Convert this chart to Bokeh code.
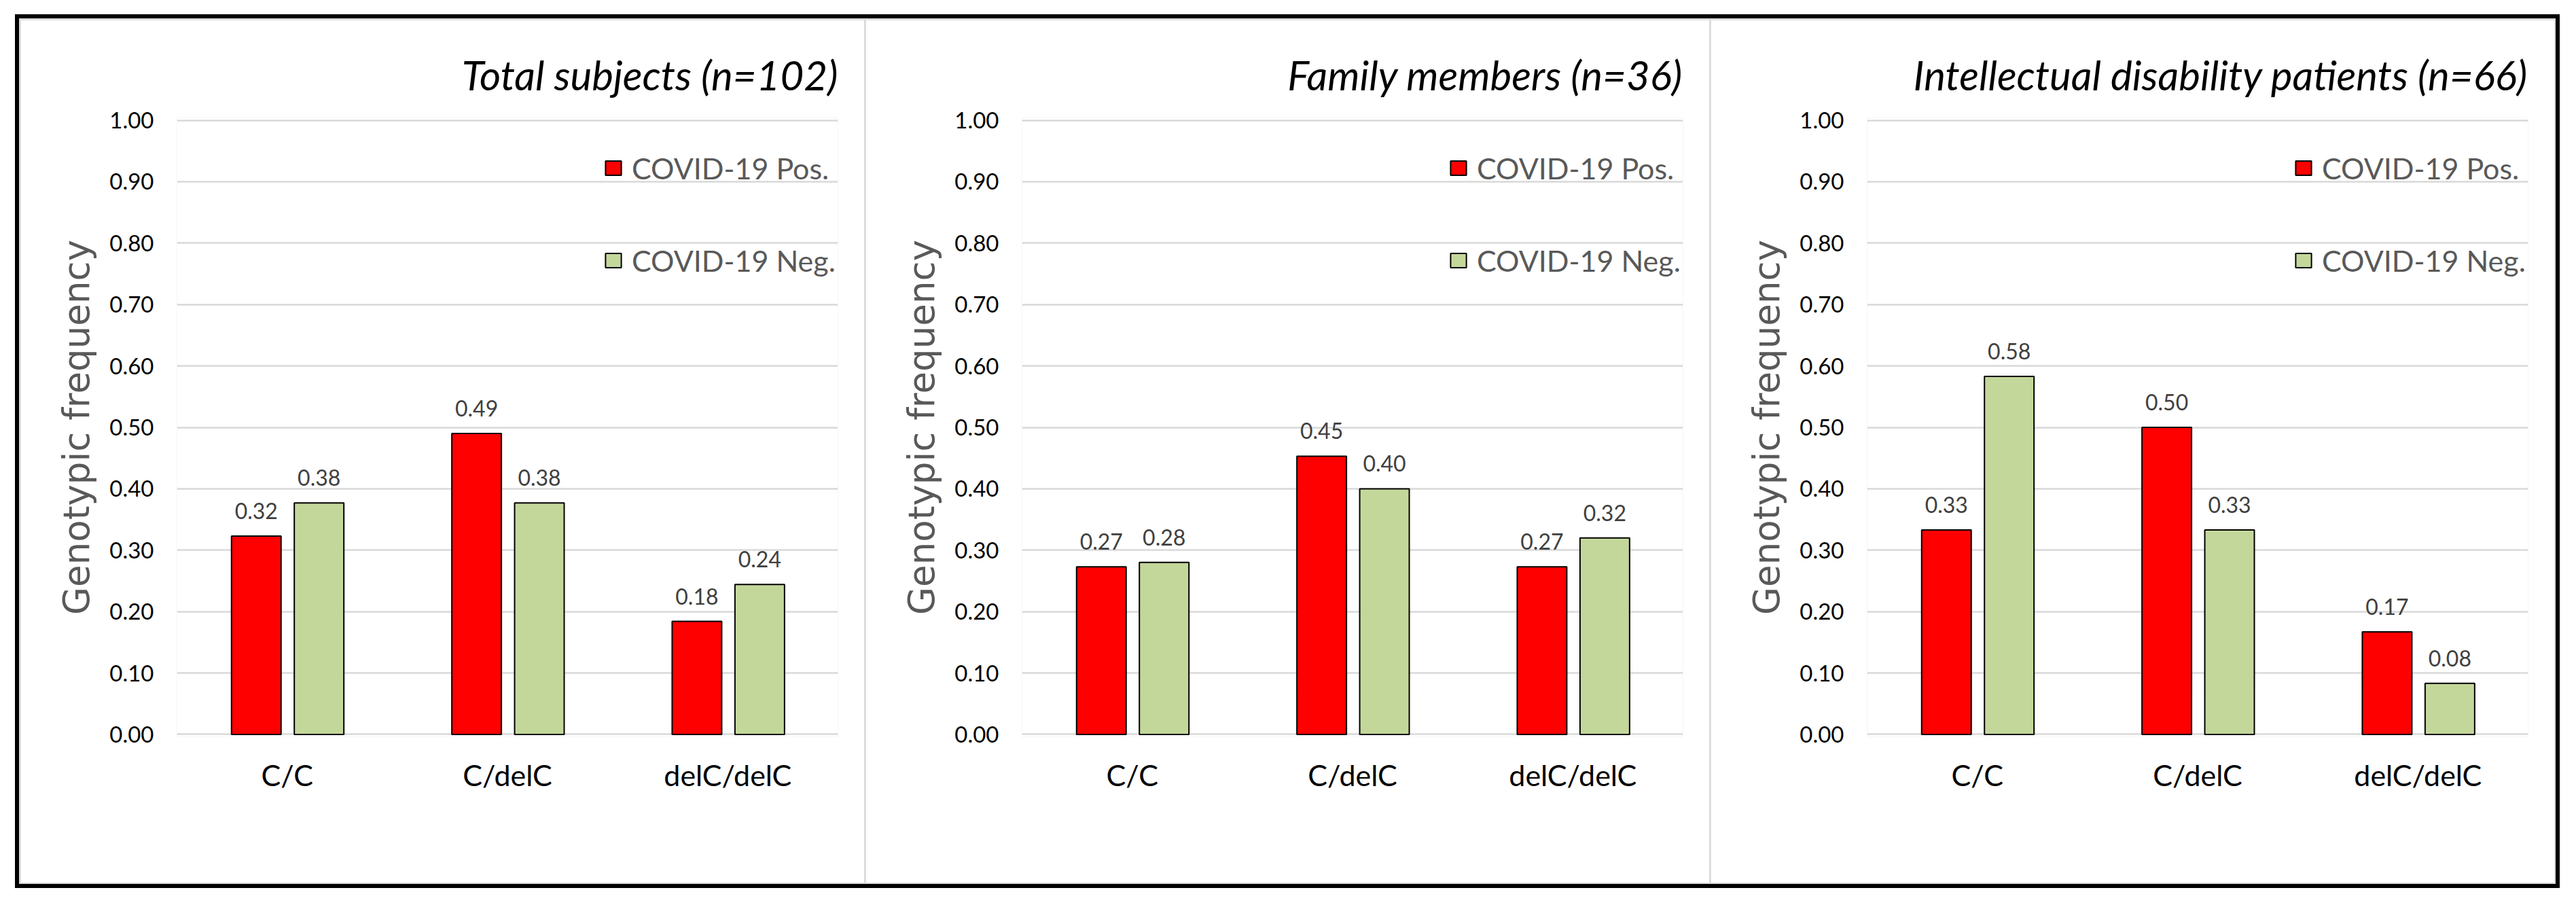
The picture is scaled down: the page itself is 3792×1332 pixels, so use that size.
from bokeh.plotting import figure
from bokeh.models import (ColumnDataSource, FactorRange, Range1d, FixedTicker,
                          PrintfTickFormatter, LabelSet, Legend, LegendItem, Title, Row)
from bokeh.transform import dodge
from bokeh.core.properties import value
from bokeh.embed import file_html
from bokeh.resources import INLINE

# ---------------- data ----------------
categories = ["C/C", "C/delC", "delC/delC"]
series_names = ["COVID-19 Pos.", "COVID-19 Neg."]
panel_titles = ["Total subjects (n=102)",
                "Family members (n=36)",
                "Intellectual disability patients (n=66)"]

total_pos = [0.323, 0.490, 0.184]
total_neg = [0.377, 0.377, 0.244]
family_pos = [0.273, 0.453, 0.273]
family_neg = [0.280, 0.400, 0.320]
id_pos = [0.333, 0.500, 0.167]
id_neg = [0.583, 0.333, 0.083]

y_ticks = [0.0, 0.1, 0.2, 0.3, 0.4, 0.5, 0.6, 0.7, 0.8, 0.9, 1.0]
y_axis_title = "Genotypic frequency"

# ---------------- style ----------------
POS_COLOR = "#FF0000"
NEG_COLOR = "#C4D79B"
GRID_COLOR = "#D9D9D9"
FONT = "Lato"


def make_panel(title, pos, neg):
    src = ColumnDataSource(dict(
        cat=categories, pos=pos, neg=neg,
        pos_lbl=["%.2f" % v for v in pos],
        neg_lbl=["%.2f" % v for v in neg],
    ))
    p = figure(x_range=FactorRange(*categories), y_range=Range1d(-0.004, 1.004),
               width=1242, height=1270, output_backend="svg", toolbar_location=None,
               min_border_left=230, min_border_right=39,
               min_border_top=144, min_border_bottom=215)
    p.outline_line_color = None
    p.background_fill_color = "white"
    p.border_fill_color = "white"

    r1 = p.vbar(x=dodge("cat", -0.14, range=p.x_range), top="pos", width=0.225,
                source=src, fill_color=POS_COLOR, line_color="black", line_width=2)
    r2 = p.vbar(x=dodge("cat", 0.145, range=p.x_range), top="neg", width=0.225,
                source=src, fill_color=NEG_COLOR, line_color="black", line_width=2)

    for off, fld, lbl in ((-0.14, "pos", "pos_lbl"), (0.145, "neg", "neg_lbl")):
        p.add_layout(LabelSet(x=dodge("cat", off, range=p.x_range), y=fld, text=lbl,
                              source=src, text_align="center", text_baseline="alphabetic",
                              y_offset=25, text_font=value(FONT), text_font_size="32px",
                              text_color="#404040"))

    p.add_layout(Title(text=title, align="right", text_font=FONT, text_font_style="italic",
                       text_font_size="60px", text_color="black", standoff=56, offset=0),
                 "above")

    legend = Legend(items=[LegendItem(label=series_names[0], renderers=[r1]),
                           LegendItem(label=series_names[1], renderers=[r2])],
                    location=(628, 675), orientation="vertical",
                    glyph_width=29, glyph_height=26, label_standoff=13,
                    label_text_font=FONT, label_text_font_size="43px",
                    label_text_color="#595959", label_height=52, spacing=84,
                    padding=0, margin=0, border_line_color=None,
                    background_fill_alpha=0)
    p.add_layout(legend)

    # y axis
    p.yaxis.ticker = FixedTicker(ticks=y_ticks)
    p.yaxis.formatter = PrintfTickFormatter(format="%.2f")
    p.yaxis.axis_line_color = None
    p.yaxis.major_tick_line_color = None
    p.yaxis.minor_tick_line_color = None
    p.yaxis.major_tick_out = 0
    p.yaxis.major_label_standoff = 34
    p.yaxis.major_label_text_font = FONT
    p.yaxis.major_label_text_font_size = "33px"
    p.yaxis.major_label_text_color = "black"
    p.yaxis.axis_label = y_axis_title
    p.yaxis.axis_label_text_font = "DejaVu Sans"
    p.yaxis.axis_label_text_font_style = "normal"
    p.yaxis.axis_label_text_font_size = "53px"
    p.yaxis.axis_label_text_color = "#595959"
    p.yaxis.axis_label_standoff = 15

    # x axis
    p.xaxis.axis_line_color = None
    p.xaxis.major_tick_line_color = None
    p.xaxis.minor_tick_line_color = None
    p.xaxis.major_tick_out = 0
    p.xaxis.major_label_standoff = 30
    p.xaxis.major_label_text_font = FONT
    p.xaxis.major_label_text_font_size = "43px"
    p.xaxis.major_label_text_color = "black"

    p.xgrid.visible = False
    p.ygrid.grid_line_color = GRID_COLOR
    p.ygrid.grid_line_width = 2.5
    return p


p1 = make_panel(panel_titles[0], total_pos, total_neg)
p2 = make_panel(panel_titles[1], family_pos, family_neg)
p3 = make_panel(panel_titles[2], id_pos, id_neg)

layout = Row(children=[p1, p2, p3], spacing=2, margin=(21, 0, 0, 22),
             styles={"border": "6px solid black", "background-color": GRID_COLOR,
                     "padding": "2px"})

open("out.html", "w").write(file_html(layout, INLINE))
